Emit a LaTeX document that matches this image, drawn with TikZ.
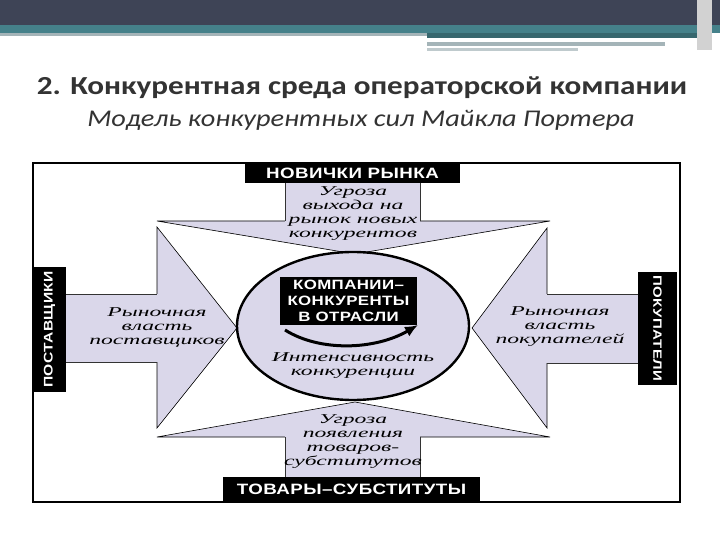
\documentclass[tikz,border=0pt]{standalone}
\usepackage{fontspec}
\setmainfont{Liberation Serif}
\newfontfamily\titlefont[FakeStretch=1.2]{Carlito}
\newfontfamily\subfont[FakeStretch=1.18]{Carlito}
\newfontfamily\capsfont[FakeStretch=1.25,LetterSpace=3]{Liberation Sans}
\newfontfamily\difont[FakeStretch=1.75]{Liberation Serif}
\usetikzlibrary{arrows.meta}
\definecolor{hdark}{HTML}{3E4456}
\definecolor{hteal}{HTML}{45818A}
\definecolor{hgrey}{HTML}{A4B4B8}
\definecolor{lav}{HTML}{DAD7EA}
\definecolor{ttl}{HTML}{333333}
\tikzset{
  blacklabel/.style={fill=black, text=white, inner sep=0pt, font=\capsfont\bfseries\fontsize{15}{16}\selectfont},
  dtext/.style={align=center, inner sep=0pt, font=\difont\itshape\fontsize{13.5}{14}\selectfont},
  headbox/.style={fill=lav, draw=black, line width=0.6pt, line join=miter},
  edge/.style={draw=black!80, line width=0.8pt}
}
\begin{document}
\begin{tikzpicture}[x=1pt,y=-1pt]
\useasboundingbox (0,0) rectangle (720,540);
% header bands
\fill[hdark] (0,0) rectangle (720,25);
\fill[hteal] (0,25) rectangle (720,33.5);
\fill[hgrey] (0,33.5) rectangle (427,36.5);
\fill[hteal!80!black] (427,33.5) rectangle (697,38);
\fill[hgrey] (427,41.7) rectangle (665,46);
\fill[hgrey!70] (427,47.7) rectangle (578,51);
\fill[gray!35] (697,0) rectangle (712,50);
% titles
\node[font=\titlefont\bfseries\fontsize{26}{30}\selectfont, text=ttl] (title) at (362,88) {2. Конкурентная среда операторской компании};
\node[font=\subfont\itshape\fontsize{24}{28}\selectfont, text=ttl] (subtitle) at (361,120) {Модель конкурентных сил Майкла Портера};
% frame
\draw[line width=1.8pt, fill=white] (33,163) rectangle (680,502);
% arrowheads
\path[headbox] (157,221) -- (550,221) -- (355,254) -- cycle;
\path[headbox] (157,437) -- (550,437) -- (355,402) -- cycle;
\path[headbox] (157,227) -- (157,428) -- (237,328) -- cycle;
\path[headbox] (547,228) -- (547,428) -- (472,328) -- cycle;
% shafts
\fill[lav] (285,183) rectangle (420,222);
\fill[lav] (285,436) rectangle (420,477);
\fill[lav] (66,294) rectangle (158,362);
\fill[lav] (546,294) rectangle (638,363);
\draw[edge] (285,183) -- (285,221) (420,183) -- (420,221);
\draw[edge] (285,437) -- (285,477) (420,437) -- (420,477);
\draw[edge] (66,294) -- (157,294) (66,362) -- (157,362);
\draw[edge] (547,294) -- (638,294) (547,363) -- (638,363);
% central ellipse
\draw[line width=2.4pt, fill=lav] (353,326) ellipse [x radius=116, y radius=74];
\node[blacklabel, align=center, minimum width=137pt, minimum height=48pt, font=\capsfont\bfseries\fontsize{13.5}{16}\selectfont] (comp) at (348.5,301) {КОМПАНИИ–\\КОНКУРЕНТЫ\\В ОТРАСЛИ};
\coordinate (arrS) at (285,330);
\coordinate (arrE) at (418,325);
\draw[line width=3pt, -{Latex[length=13pt,width=11pt]}] (arrS) .. controls (320,352) and (375,350) .. (arrE);
\node[dtext] (intens) at (353,366) {Интенсивность\\конкуренции};
% black labels
\node[blacklabel, minimum width=215pt, minimum height=20pt] (newc) at (352.5,173) {НОВИЧКИ РЫНКА};
\node[blacklabel, minimum width=257pt, minimum height=25pt] (subst) at (351.5,489.5) {ТОВАРЫ–СУБСТИТУТЫ};
\node[blacklabel, minimum width=125pt, minimum height=33pt, rotate=90, font=\capsfont\bfseries\fontsize{12.5}{14}\selectfont] (supp) at (49.5,329.5) {ПОСТАВЩИКИ};
\node[blacklabel, minimum width=113pt, minimum height=39pt, rotate=-90, font=\capsfont\bfseries\fontsize{12}{14}\selectfont] (buy) at (657.5,328.5) {ПОКУПАТЕЛИ};
% arrow texts
\node[dtext] (tnew) at (353,214) {Угроза\\выхода на\\рынок новых\\конкурентов};
\node[dtext] (tsub) at (353,442) {Угроза\\появления\\товаров-\\субститутов};
\node[dtext] (tsup) at (157,327) {Рыночная\\власть\\поставщиков};
\node[dtext] (tbuy) at (560,327) {Рыночная\\власть\\покупателей};
\end{tikzpicture}
\end{document}
